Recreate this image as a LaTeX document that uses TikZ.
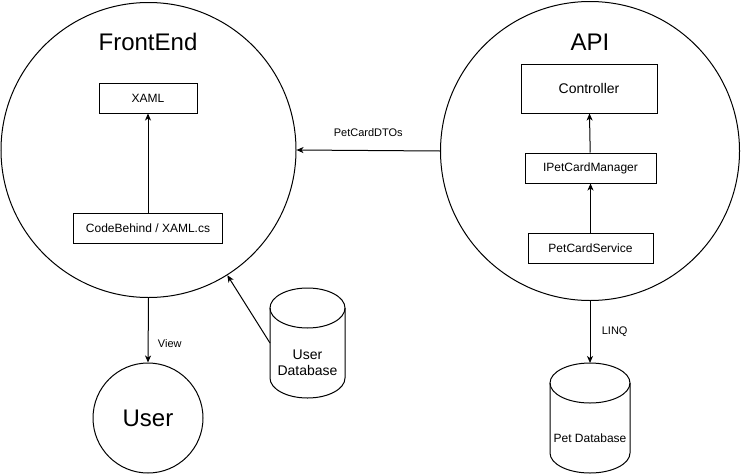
\documentclass[tikz,border=0pt]{standalone}
\usepackage{fontspec}
\setmainfont{Liberation Sans}
\usetikzlibrary{arrows.meta}
% cylinder round a db node: #1 node, #2 half width
\newcommand{\dbdraw}[2]{%
  \draw[line width=1pt] ([yshift=20pt]#1.north west) -- ([yshift=20pt]#1.south west)
    arc[start angle=180, end angle=360, x radius=#2, y radius=20pt]
    -- ([yshift=20pt]#1.north east);
  \draw[line width=1pt] ([yshift=20pt]#1.north) ellipse[x radius=#2, y radius=20pt];
}
\tikzset{
  box/.style={draw, line width=1pt, minimum height=30pt, inner sep=0pt, font=\fontsize{12}{14}\selectfont},
  bigcircle/.style={draw, circle, line width=1pt, inner sep=0pt},
  db/.style={minimum height=70pt, inner sep=0pt, outer sep=0pt, align=center},
  flow/.style={-{Stealth[length=7pt,width=6pt,inset=2pt]}, line width=1pt},
  title/.style={font=\fontsize{24}{28}\selectfont},
  lbl/.style={font=\fontsize{11}{13}\selectfont}
}

\begin{document}
\begin{tikzpicture}[x=1pt,y=1pt]
  \useasboundingbox (0,0) rectangle (741,-474);
  % front end
  \node[bigcircle, minimum size=295pt] (front) at (148.5,-150) {};
  \node[title] (fetitle) at (148,-42) {FrontEnd};
  \node[box, minimum width=98pt] (xaml) at (148,-98) {XAML};
  \node[box, minimum width=149pt] (code) at (148,-228) {CodeBehind / XAML.cs};
  \draw[flow] (code) -- (xaml);
  % api
  \node[bigcircle, minimum size=299pt] (api) at (590,-151) {};
  \node[title] (apititle) at (590,-42) {API};
  \node[box, minimum width=136pt, minimum height=49pt, font=\fontsize{14}{16}\selectfont] (ctrl) at (589,-88.5) {Controller};
  \node[box, minimum width=131pt] (mgr) at (590.5,-168) {IPetCardManager};
  \node[box, minimum width=125pt] (svc) at (590.5,-248) {PetCardService};
  \draw[flow] (svc) -- (mgr);
  \draw[flow] (mgr) -- (ctrl);
  \draw[flow] (api.west) -- (front.east) node[lbl, midway, above=10pt] {PetCardDTOs};
  % user and databases
  \node[bigcircle, minimum size=110pt, font=\fontsize{24}{28}\selectfont] (user) at (148,-418) {User};
  \draw[flow] (front.south) -- (user.north) node[lbl, pos=0.7, right=6pt] {View};
  \node[db, minimum width=75pt, font=\fontsize{14}{16}\selectfont] (udb) at (307.5,-363) {User\\Database};
  \dbdraw{udb}{37.5pt}
  \draw[flow] ([yshift=20pt]udb.west) -- (front);
  \node[db, minimum width=80pt, font=\fontsize{12}{14}\selectfont] (pdb) at (590,-438) {Pet Database};
  \dbdraw{pdb}{40pt}
  \draw[flow] (api.south) -- ([yshift=40pt]pdb.north) node[lbl, midway, right=8pt] {LINQ};
\end{tikzpicture}
\end{document}
